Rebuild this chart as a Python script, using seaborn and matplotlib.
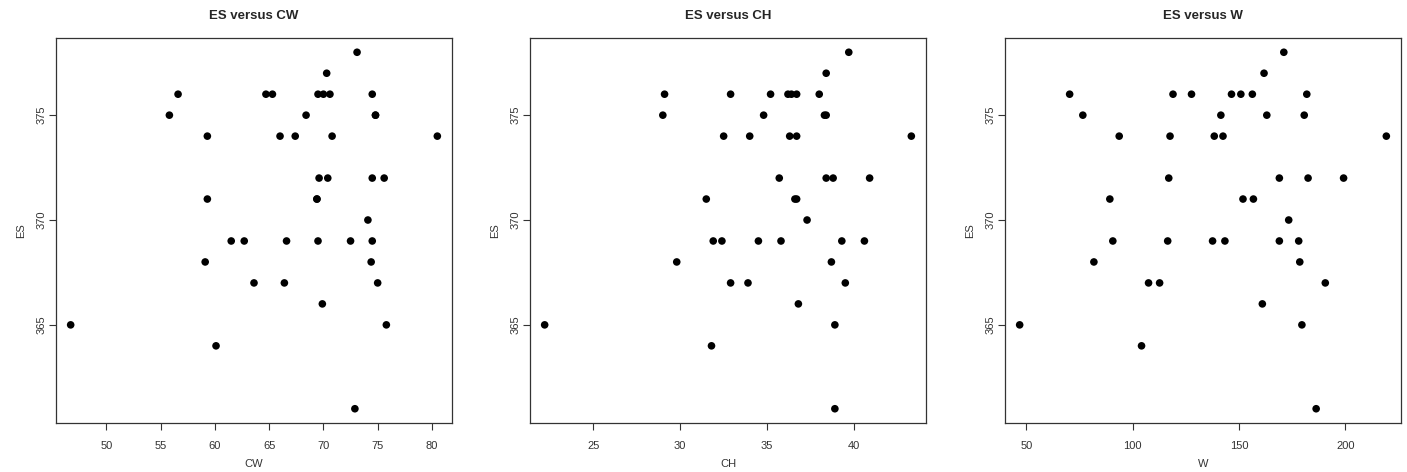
import numpy as np
import pandas as pd
import matplotlib
matplotlib.use("Agg")
import matplotlib.pyplot as plt
import seaborn as sns

# ---- data ----
ES = [378, 377,
      376, 376, 376, 376, 376, 376, 376,
      375, 375, 375, 375,
      374, 374, 374, 374, 374,
      372, 372, 372, 372,
      371, 371, 371,
      370,
      369, 369, 369, 369, 369, 369,
      368, 368,
      367, 367, 367,
      366,
      365, 365,
      364,
      361]
CW = [73.1, 70.3,
      56.6, 64.7, 65.3, 69.5, 70.0, 70.6, 74.5,
      55.8, 68.4, 74.8, 74.8,
      59.3, 66.0, 67.4, 70.8, 80.5,
      69.6, 70.4, 74.5, 75.6,
      59.3, 69.4, 69.4,
      74.1,
      61.5, 62.7, 66.6, 69.5, 72.5, 74.5,
      59.1, 74.4,
      63.6, 66.4, 75.0,
      69.9,
      46.7, 75.8,
      60.1,
      72.9]
CH = [39.7, 38.4,
      29.1, 32.9, 35.2, 36.2, 36.4, 36.7, 38.0,
      29.0, 34.8, 38.3, 38.4,
      32.5, 34.0, 36.3, 36.7, 43.3,
      35.7, 38.4, 38.8, 40.9,
      31.5, 36.6, 36.7,
      37.3,
      31.9, 32.4, 34.5, 35.8, 39.3, 40.6,
      29.8, 38.7,
      32.9, 33.9, 39.5,
      36.8,
      22.2, 38.9,
      31.8,
      38.9]
W = [171.1, 161.8,
     70.4, 119.0, 127.7, 146.5, 150.9, 156.3, 181.9,
     76.6, 141.5, 163.1, 180.7,
     93.7, 117.6, 138.4, 142.5, 219.3,
     117.0, 169.0, 182.5, 199.2,
     89.3, 151.9, 156.8,
     173.4,
     90.7, 116.5, 137.6, 143.4, 169.0, 178.1,
     81.8, 178.6,
     107.5, 112.7, 190.6,
     161.0,
     46.9, 179.6,
     104.2,
     186.3]

df = pd.DataFrame({"ES": ES, "CW": CW, "CH": CH, "W": W})
panels = ["CW", "CH", "W"]
titles = ["ES versus CW", "ES versus CH", "ES versus W"]
x_ticks = [[50, 55, 60, 65, 70, 75, 80],
           [25, 30, 35, 40],
           [50, 100, 150, 200]]
y_ticks = [365, 370, 375]

sns.set_style("ticks")
plt.rcParams["font.family"] = ["Liberation Sans", "DejaVu Sans"]

fig = plt.figure(figsize=(14.07, 4.72), dpi=100)
W_px, H_px = 1407, 472
lefts = [56, 530, 1005]
ax_w, top, bottom = 396, 38, 423


def pad(vals):
    lo, hi = min(vals), max(vals)
    r = hi - lo
    return lo - 0.04 * r, hi + 0.04 * r


for i, col in enumerate(panels):
    ax = fig.add_axes([lefts[i] / W_px, 1 - bottom / H_px,
                       ax_w / W_px, (bottom - top) / H_px])
    sns.scatterplot(data=df, x=col, y="ES", ax=ax, color="black",
                    edgecolor="none", s=30, linewidth=0)
    ax.set_xlim(*pad(df[col]))
    ax.set_ylim(*pad(df["ES"]))
    ax.set_xticks(x_ticks[i])
    ax.set_yticks(y_ticks)
    ax.tick_params(axis="both", direction="out", length=5, width=0.8,
                   color="#333333", labelsize=8, labelcolor="#333333")
    ax.tick_params(axis="x", pad=8)
    ax.tick_params(axis="y", pad=2)
    for lab in ax.get_yticklabels():
        lab.set_rotation(90)
        lab.set_va("center")
    for sp in ax.spines.values():
        sp.set_visible(True)
        sp.set_color("#333333")
        sp.set_linewidth(0.9)
    ax.set_xlabel(col, fontsize=8, color="#333333", labelpad=6)
    ax.set_ylabel("ES", fontsize=8, color="#333333", labelpad=7)
    ax.set_title(titles[i], fontsize=9.5, fontweight="bold", pad=14)

fig.savefig("out.png", dpi=100, facecolor="white")
